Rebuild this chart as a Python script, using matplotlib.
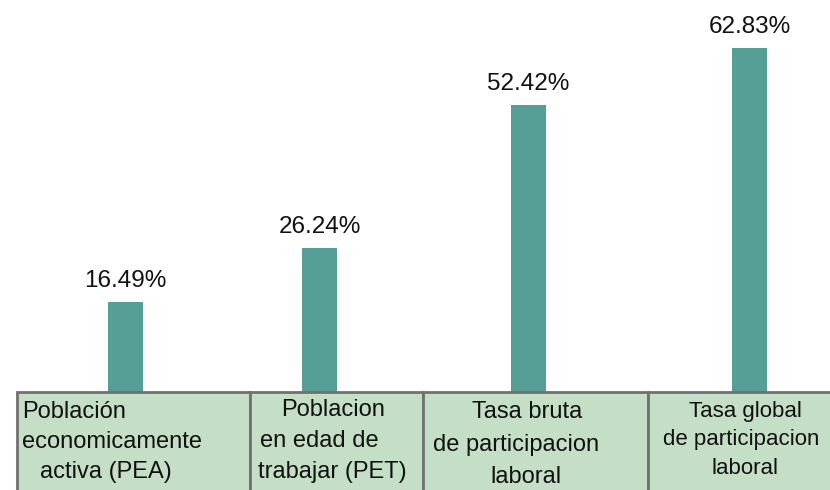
import matplotlib.pyplot as plt
from matplotlib.patches import Rectangle

# Indicadores laborales (%)
categorias = [
    ["Población", "economicamente", "activa (PEA)"],
    ["Poblacion", "en edad de", "trabajar (PET)"],
    ["Tasa bruta", "de participacion", "laboral"],
    ["Tasa global", "de participacion", "laboral"],
]
valores = [16.49, 26.24, 52.42, 62.83]
etiquetas = ["16.49%", "26.24%", "52.42%", "62.83%"]

# Disposicion en pixeles de la figura (830 x 490)
ANCHO, ALTO = 830, 490
BASE = 392
centros_x = [125.5, 319.5, 528.5, 749.5]
ancho_barra = 35
bordes_celdas = [17, 250, 423, 648, 834]
alineacion = ["left", "center", "center", "center"]
x_lineas = [[22, 22, 40], [333, 319, 332], [527, 516, 526], [745, 741, 745]]
y_lineas = [[78, 48, 18], [80, 49, 18], [78, 45, 13], [79, 51, 22]]
tam_texto = [17, 17, 17, 16]

color_barra = "#559f96"
color_celda = "#c4dfc5"
color_borde = "#707070"

plt.rcParams["font.family"] = ["Liberation Sans", "DejaVu Sans"]

fig = plt.figure(figsize=(ANCHO / 100, ALTO / 100), dpi=100)

# Barras
eje = fig.add_axes([0, (ALTO - BASE) / ALTO, 1, BASE / ALTO])
eje.bar(centros_x, valores, width=ancho_barra, color=color_barra)
for x, v, txt in zip(centros_x, valores, etiquetas):
    eje.annotate(txt, (x, v), xytext=(0, 7), textcoords="offset points",
                 ha="center", va="bottom", fontsize=17.5, color="#111111")
eje.set_xlim(0, ANCHO)
eje.set_ylim(0, 71.5)
eje.axis("off")

# Tabla de etiquetas bajo las barras
tabla = fig.add_axes([0, 0, 1, (ALTO - BASE) / ALTO])
tabla.set_xlim(0, ANCHO)
tabla.set_ylim(0, ALTO - BASE)
tabla.axis("off")
for i in range(len(categorias)):
    x0, x1 = bordes_celdas[i], bordes_celdas[i + 1]
    tabla.add_patch(Rectangle((x0, -10), x1 - x0, ALTO - BASE + 10,
                              facecolor=color_celda, edgecolor=color_borde,
                              linewidth=2, clip_on=False))
    for linea, x, y in zip(categorias[i], x_lineas[i], y_lineas[i]):
        tabla.text(x, y, linea, ha=alineacion[i], va="center",
                   fontsize=tam_texto[i], color="#111111")

fig.savefig("out.png", dpi=100)
